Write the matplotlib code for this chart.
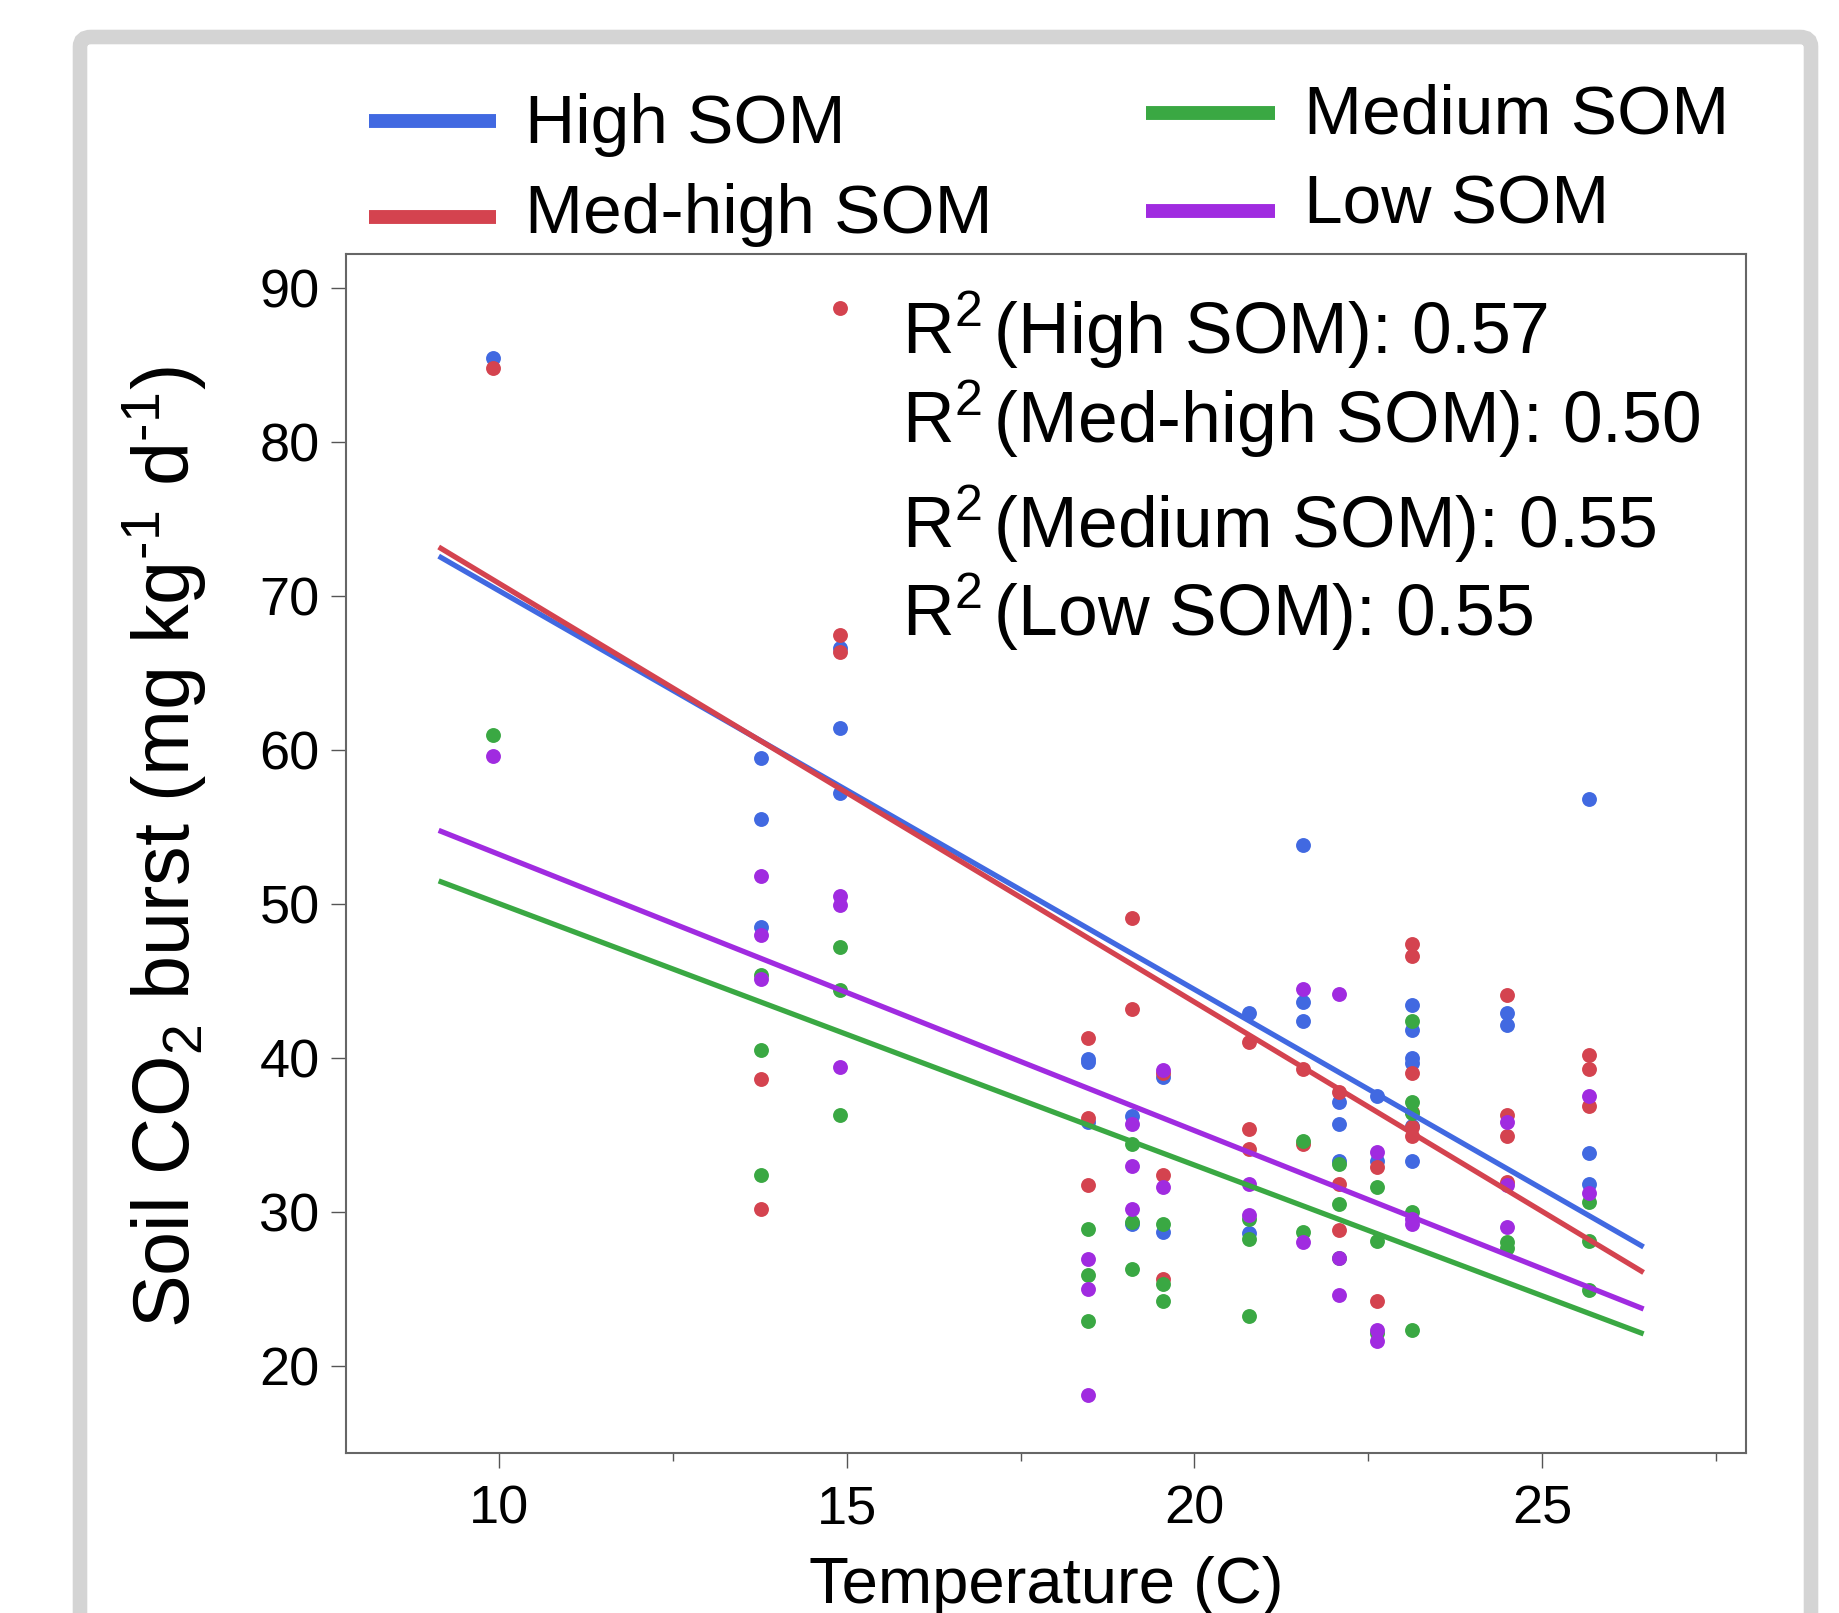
"""Soil CO2 burst vs. temperature for four SOM classes, with linear fits."""

import matplotlib
matplotlib.use("Agg")
import matplotlib.pyplot as plt
from matplotlib.lines import Line2D
from matplotlib.patches import FancyBboxPatch
from matplotlib.ticker import MultipleLocator

plt.rcParams["font.family"] = ["Liberation Sans", "DejaVu Sans"]
plt.rcParams["mathtext.fontset"] = "custom"
plt.rcParams["mathtext.rm"] = "Liberation Sans"
plt.rcParams["mathtext.it"] = "Liberation Sans:italic"
plt.rcParams["mathtext.bf"] = "Liberation Sans:bold"

# sampling temperatures (C), one column of dots per value
temps = [9.92, 13.76, 14.90, 18.47, 19.10, 19.55, 20.78,
         21.56, 22.08, 22.63, 23.13, 24.49, 25.67]

# CO2 burst (mg kg-1 d-1) per temperature column
high_som = [
    [85.45], [59.5, 55.5, 48.5], [66.6, 61.4, 57.2], [39.9, 39.7, 35.8],
    [36.2, 29.2], [38.75, 28.7], [42.9, 28.6], [53.8, 43.6, 42.4],
    [37.1, 35.7, 33.3], [37.5, 33.3],
    [43.4, 41.8, 40.0, 39.65, 35.6, 33.3], [42.9, 42.1], [56.8, 33.8, 31.8],
]
med_high_som = [
    [84.85], [38.6, 30.2], [88.7, 67.5, 66.35], [41.3, 36.1, 31.75],
    [49.1, 43.2], [39.0, 32.4, 25.6], [41.0, 35.4, 34.1], [39.3, 34.4],
    [37.8, 31.8, 28.8], [32.9, 24.2],
    [47.4, 46.6, 39.0, 36.5, 35.5, 34.9], [44.1, 36.3, 34.9, 31.9],
    [40.2, 39.3, 36.85],
]
medium_som = [
    [61.0], [45.4, 40.5, 32.4], [47.2, 44.4, 36.3], [28.9, 25.9, 22.9],
    [34.4, 29.3, 26.3], [29.2, 25.3, 24.2], [29.5, 28.2, 23.2], [34.6, 28.7],
    [33.1, 30.5, 27.0], [31.6, 28.1, 22.1],
    [42.4, 37.1, 36.4, 30.0, 22.3], [28.0, 27.65], [30.6, 28.1, 24.9],
]
low_som = [
    [59.6], [51.8, 48.0, 45.1], [50.5, 49.9, 39.4], [26.9, 25.0, 18.1],
    [35.7, 33.0, 30.2], [39.2, 31.6], [31.8, 29.8], [44.5, 28.0],
    [44.15, 27.0, 24.6], [33.9, 22.3, 21.6], [29.5, 29.2],
    [35.8, 31.75, 29.0], [37.5, 31.2],
]

labels = ["High SOM", "Med-high SOM", "Medium SOM", "Low SOM"]
colors = ["#4169E1", "#D4434F", "#3AA843", "#A02BE0"]

# linear fits as drawn in the figure
fit_intercepts = [96.26, 98.04, 67.01, 71.17]
fit_slopes = [-2.591, -2.721, -1.699, -1.795]
r_squared = ["0.57", "0.50", "0.55", "0.55"]

FIG_W, FIG_H = 1839, 1613


def fx(px):
    return px / FIG_W


def fy(py):
    return 1 - py / FIG_H


def flatten(columns):
    xs, ys = [], []
    for t, vals in zip(temps, columns):
        xs.extend([t] * len(vals))
        ys.extend(vals)
    return xs, ys


def main() -> None:
    fig = plt.figure(figsize=(FIG_W / 100, FIG_H / 100), dpi=100)

    frame = FancyBboxPatch(
        (fx(80), -0.05), fx(1811) - fx(80), fy(37) + 0.05,
        boxstyle="round,pad=0,rounding_size=0.006",
        transform=fig.transFigure, facecolor="none",
        edgecolor="#d4d4d4", linewidth=10.5, zorder=-1,
    )
    fig.patches.append(frame)

    ax = fig.add_axes([fx(346), fy(1453), fx(1746) - fx(346), fy(254) - fy(1453)])
    ax.set_xlim(7.8, 27.93)
    ax.set_ylim(14.32, 92.23)

    series = [high_som, med_high_som, medium_som, low_som]
    x_min, x_max = min(temps), max(temps)
    pad = 0.05 * (x_max - x_min)
    x_fit = [x_min - pad, x_max + pad]

    for data, color in zip(series, colors):
        xs, ys = flatten(data)
        ax.scatter(xs, ys, s=115, color=color, linewidths=0, zorder=2)
    for b0, b1, color in zip(fit_intercepts, fit_slopes, colors):
        ax.plot(x_fit, [b0 + b1 * x for x in x_fit], color=color, lw=3.8,
                solid_capstyle="butt", zorder=3)

    ax.set_xticks([10, 15, 20, 25])
    ax.xaxis.set_minor_locator(MultipleLocator(2.5))
    ax.set_yticks(range(20, 91, 10))
    ax.tick_params(axis="both", which="major", length=11, width=1.0,
                   color="#555555", labelsize=39)
    ax.tick_params(axis="x", which="major", pad=12)
    ax.tick_params(axis="y", which="major", pad=8)
    ax.tick_params(axis="x", which="minor", length=6, width=1.0, color="#555555")
    for spine in ax.spines.values():
        spine.set_color("#666666")
        spine.set_linewidth(1.5)

    ax.set_xlabel("Temperature (C)", fontsize=47)
    ax.xaxis.set_label_coords(0.5, -0.086)
    ax.set_ylabel(r"Soil CO$_2$ burst (mg kg$^{\text{-1}}$ d$^{\text{-1}}$)",
                  fontsize=57)
    ax.yaxis.set_label_coords(-0.098, 0.505)

    # R^2 annotations
    for label, r2, base in zip(labels, r_squared, [354, 443, 548, 636]):
        fig.text(fx(902), fy(base), rf"R$^2\,$({label}): {r2}", fontsize=51.5,
                 va="baseline", ha="left")

    # legend, laid out in two columns above the axes
    legend_pos = [
        (369, 496, 121, 525, 143),
        (369, 496, 217, 525, 233),
        (1146, 1275, 113, 1304, 133),
        (1146, 1275, 211, 1304, 223),
    ]
    for label, color, (x0, x1, yl, xt, yt) in zip(labels, colors, legend_pos):
        fig.add_artist(Line2D([fx(x0), fx(x1)], [fy(yl), fy(yl)],
                              transform=fig.transFigure, color=color,
                              lw=10, solid_capstyle="butt"))
        fig.text(fx(xt), fy(yt), label, fontsize=50, va="baseline", ha="left")

    fig.savefig("out.png", dpi=100, facecolor="white")
    plt.close(fig)


if __name__ == "__main__":
    main()
